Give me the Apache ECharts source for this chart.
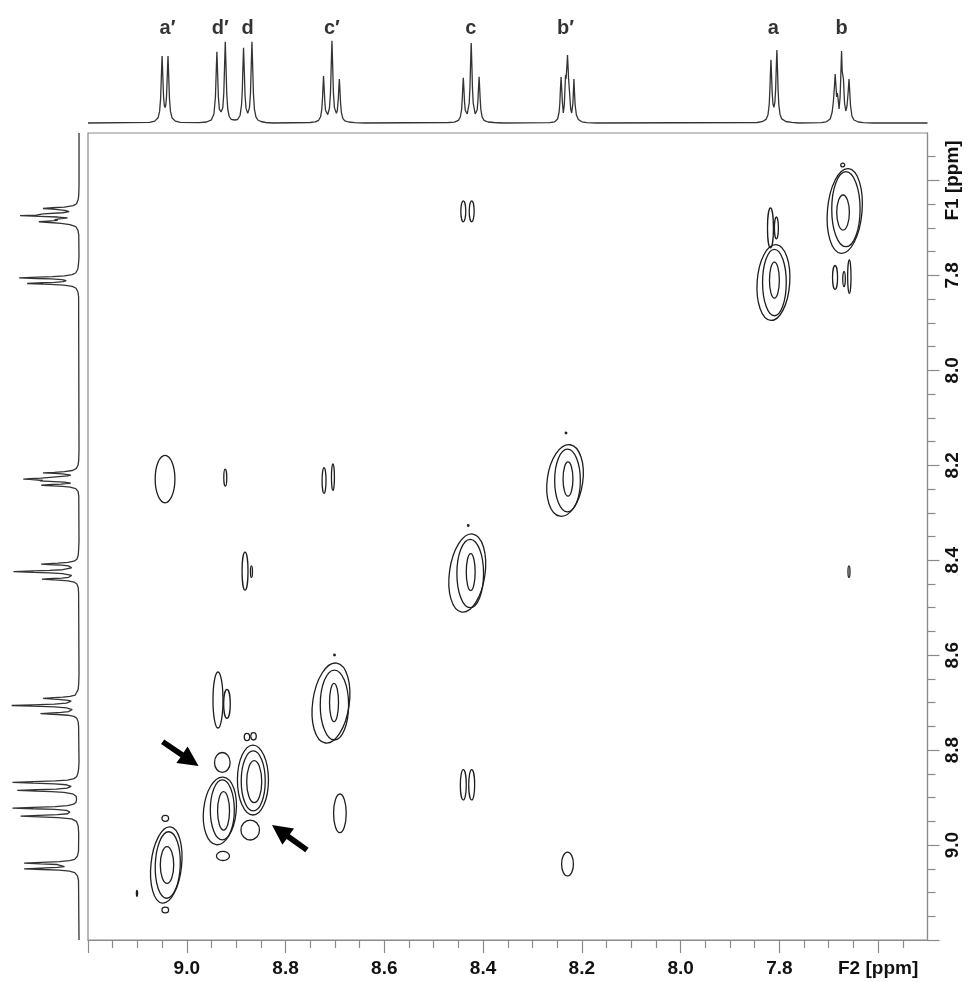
<!DOCTYPE html>
<html><head><meta charset="utf-8">
<script src="https://cdn.jsdelivr.net/npm/echarts@6/dist/echarts.min.js"></script>
<style>html,body{margin:0;padding:0;background:#fff}#c{width:972px;height:982px}</style>
</head><body><div id="c"></div>
<script>
// ---- axis data ----
const axisMin = 7.5, axisMax = 9.2;
const majorTicks = [7.6, 7.8, 8.0, 8.2, 8.4, 8.6, 8.8, 9.0, 9.2];
const minorTicks = [7.55,7.65,7.7,7.75,7.85,7.9,7.95,8.05,8.1,8.15,8.25,8.3,8.35,8.45,8.5,8.55,8.65,8.7,8.75,8.85,8.9,8.95,9.05,9.1,9.15];
const labelValues = [7.6, 7.8, 8.0, 8.2, 8.4, 8.6, 8.8, 9.0];
const xTickLabels = ['F2 [ppm]', '7.8', '8.0', '8.2', '8.4', '8.6', '8.8', '9.0'];
const yTickLabels = ['F1 [ppm]', '7.8', '8.0', '8.2', '8.4', '8.6', '8.8', '9.0'];

// ---- 1D spectrum trace (ppm, intensity) ----
const aPrimeTrace = [[9.075,0.6],[9.065,1.9],[9.058,5.3],[9.055,11.6],[9.053,24.1],[9.0515,46],[9.05,67],[9.0485,47],[9.047,26.4],[9.0455,17.7],[9.044,15.4],[9.0425,17.7],[9.041,26.4],[9.0395,47],[9.038,67],[9.0365,46],[9.035,24.1],[9.033,11.6],[9.03,5.3],[9.023,1.9],[9.013,0.6]];
const dPairTrace = [[8.975,0.4],[8.96,1.0],[8.95,3.2],[8.945,9.0],[8.942,25.5],[8.9405,48.9],[8.939,71.3],[8.9375,49.4],[8.936,26.4],[8.934,13.9],[8.9305,11],[8.927,15.3],[8.925,29.7],[8.9235,56],[8.922,81.2],[8.9205,56],[8.919,29.1],[8.917,14],[8.914,6.5],[8.91,3.7],[8.9035,3.0],[8.897,3.5],[8.892,7.8],[8.889,18.5],[8.8875,33.5],[8.8865,52],[8.885,75.3],[8.8835,52.1],[8.882,27.8],[8.88,14.6],[8.8765,9.6],[8.873,15.4],[8.871,29.8],[8.8695,56.1],[8.868,81.2],[8.8665,55.9],[8.865,29.1],[8.863,13.9],[8.86,6.2],[8.856,3.0],[8.85,1.5],[8.84,0.5],[8.825,0]];
const cPrimeTrace = [[8.75,0.5],[8.74,1.1],[8.733,2.7],[8.729,6.2],[8.7265,13.9],[8.725,26],[8.7245,32],[8.723,47],[8.7215,32],[8.7205,21.8],[8.719,12.8],[8.7145,8.3],[8.711,15],[8.709,29.9],[8.7075,56.6],[8.706,82.2],[8.7045,56.6],[8.703,30.1],[8.701,15.4],[8.697,9.6],[8.695,12.9],[8.693,25.4],[8.6925,31],[8.691,44],[8.6895,30],[8.6885,19.7],[8.687,10.9],[8.684,4.6],[8.68,2.2],[8.672,1.0],[8.66,0.4],[8.64,0]];
const cTrace = [[8.47,0.5],[8.458,0.9],[8.45,2.6],[8.446,6],[8.4435,13.3],[8.442,25],[8.4415,31],[8.44,45.2],[8.4385,31.5],[8.4375,21],[8.436,12.6],[8.432,9.0],[8.428,20.1],[8.4265,35.9],[8.4255,55.2],[8.424,80],[8.4225,55.2],[8.4215,35.9],[8.42,20.1],[8.416,9.0],[8.412,13],[8.4105,21.4],[8.4095,32],[8.408,46.2],[8.4065,31.5],[8.406,25.6],[8.4045,13.6],[8.402,6.1],[8.398,2.6],[8.39,1.0],[8.378,0.5],[8.36,0]];
const bPrimeTrace = [[8.265,0.3],[8.255,1.2],[8.249,4],[8.246,11],[8.2445,20],[8.2435,32],[8.242,46],[8.2405,32],[8.2395,22],[8.2375,10],[8.2355,18],[8.234,36],[8.233,48],[8.232,44],[8.231,46],[8.2298,60],[8.229,68],[8.2282,60],[8.227,46],[8.226,44],[8.2245,28],[8.2225,14],[8.2205,10],[8.218,20],[8.2172,30],[8.216,44],[8.2148,30],[8.2135,18],[8.211,8],[8.207,3.5],[8.2,1.2],[8.19,0.4],[8.17,0]];
const aTrace = [[7.845,0.5],[7.835,1.3],[7.827,3.6],[7.823,8.2],[7.8205,18.7],[7.819,35.1],[7.8185,44],[7.817,63.3],[7.8155,44],[7.8145,30.2],[7.813,19.2],[7.811,15.6],[7.809,20.8],[7.8075,34.1],[7.8065,51],[7.805,73],[7.8035,50],[7.8025,32.4],[7.801,17.7],[7.7985,8.3],[7.795,4.1],[7.787,1.5],[7.775,0.6],[7.76,0]];
const bTrace = [[7.715,0.3],[7.705,1.2],[7.697,4],[7.693,11],[7.6905,22],[7.6885,36],[7.687,49],[7.6855,38],[7.684,26],[7.6825,30],[7.681,24],[7.679,14],[7.677,26],[7.6755,48],[7.674,72],[7.6728,52],[7.6715,54],[7.6702,44],[7.668,20],[7.6655,12],[7.663,17],[7.6605,32],[7.659,44],[7.6575,32],[7.656,18],[7.653,7],[7.649,3],[7.64,1],[7.63,0.3],[7.61,0]];
const baselineEnds = [[9.2,0],[7.5,0]];

// ---- peak labels over the projection ----
const peakLabelNames = ['a\u2032','d\u2032','d','c\u2032','c','b\u2032','a','b'];
const peakLabelPpm   = [9.039, 8.932, 8.877, 8.706, 8.425, 8.233, 7.812, 7.674];

// ---- 2D contours: [F2 ppm, F1 ppm, half-width F2, half-width F1, tilt deg] ----
const diagonalContours = [
  [9.0415, 9.042, 0.0310, 0.0807, 6], [9.0385, 9.042, 0.0253, 0.0701, 2], [9.040, 9.042, 0.0136, 0.0386, 0],
  [8.933, 8.928, 0.0330, 0.0716, 6], [8.928, 8.926, 0.0243, 0.0632, 0], [8.9255, 8.928, 0.0121, 0.0404, 0],
  [8.866, 8.863, 0.0314, 0.0737, 0], [8.8654, 8.865, 0.0243, 0.0632, 0], [8.8634, 8.8665, 0.0152, 0.0442, 0],
  [8.708, 8.7008, 0.0370, 0.0850, 8], [8.701, 8.705, 0.0287, 0.0737, 0], [8.7018, 8.6997, 0.0091, 0.0404, 0],
  [8.432, 8.427, 0.0360, 0.0830, 8], [8.426, 8.428, 0.027, 0.072, 0], [8.425, 8.425, 0.009, 0.039, 0],
  [8.234, 8.232, 0.0360, 0.0760, 8], [8.229, 8.232, 0.026, 0.066, 0], [8.228, 8.229, 0.010, 0.036, 0],
  [7.812, 7.815, 0.033, 0.080, 4], [7.810, 7.815, 0.024, 0.070, 0], [7.810, 7.810, 0.010, 0.038, 0],
  [7.6676, 7.6643, 0.0350, 0.0895, 5], [7.6652, 7.6605, 0.0287, 0.079, 0], [7.671, 7.6675, 0.0128, 0.0369, 0]
];
const crossContours = [
  [9.0435, 8.9437, 0.0067, 0.0063, 0], [9.0435, 9.1368, 0.0067, 0.006, 0], [9.1008, 9.1016, 0.0012, 0.0063, 0],
  [8.928, 8.826, 0.0158, 0.021, 0], [8.9267, 9.023, 0.0132, 0.0095, 0],
  [8.8781, 8.7724, 0.0055, 0.0078, 0], [8.8648, 8.7709, 0.0055, 0.0078, 0], [8.8715, 8.9683, 0.0188, 0.021, 0],
  [8.7008, 8.5997, 0.0016, 0.0017, 0], [8.430, 8.327, 0.0016, 0.0017, 0], [8.232, 8.132, 0.0016, 0.0017, 0], [7.6717, 7.5674, 0.004, 0.004, 0],
  [8.9368, 8.6944, 0.0101, 0.059, 0], [8.9186, 8.7024, 0.0067, 0.0305, 0],
  [8.6899, 8.9331, 0.0128, 0.0407, 0],
  [9.044, 8.229, 0.020, 0.05, 0], [8.922, 8.226, 0.003, 0.018, 0], [8.722, 8.232, 0.004, 0.027, 0], [8.704, 8.225, 0.003, 0.028, 0],
  [8.229, 9.040, 0.012, 0.025, 0],
  [8.882, 8.423, 0.006, 0.040, 0], [8.869, 8.424, 0.002, 0.012, 0], [7.659, 8.424, 0.002, 0.012, 0],
  [8.440, 8.873, 0.006, 0.032, 0], [8.423, 8.873, 0.006, 0.032, 0],
  [8.440, 7.665, 0.005, 0.022, 0], [8.423, 7.665, 0.005, 0.022, 0],
  [7.818, 7.700, 0.006, 0.042, 0], [7.806, 7.700, 0.004, 0.023, 0],
  [7.6872, 7.8044, 0.0051, 0.0253, 0], [7.669, 7.8076, 0.0026, 0.0158, 0], [7.6583, 7.8027, 0.0034, 0.0352, 0]
];

// ---- annotation arrows: [from F2, from F1, to F2, to F1] ----
const arrowData = [[9.0488, 8.7823, 8.9761, 8.8335], [8.7567, 9.0104, 8.8275, 8.9578]];

// ---- build ----
const spectrum = [baselineEnds[0]].concat(aPrimeTrace, dPairTrace, cPrimeTrace, cTrace, bPrimeTrace, aTrace, bTrace, [baselineEnds[1]]);
const labelData = peakLabelNames.map((n, i) => ({ name: n, value: [peakLabelPpm[i], 95] }));

const FONT = 'Liberation Sans, Arial, Helvetica, sans-serif';
const AXIS_COLOR = '#8a8a8a';
function labelFor(v, arr) {
  for (let i = 0; i < labelValues.length; i++) if (Math.abs(v - labelValues[i]) < 1e-6) return arr[i];
  return '';
}
function ellipseItem(params, api) {
  const c = api.coord([api.value(0), api.value(1)]);
  const s = api.size([api.value(2), api.value(3)]);
  const tilt = api.value(4) || 0;
  return {
    type: 'ellipse', x: c[0], y: c[1], rotation: -tilt * Math.PI / 180,
    shape: { cx: 0, cy: 0, rx: s[0], ry: s[1] },
    style: { fill: null, stroke: '#1e1e1e', lineWidth: 1.3 }
  };
}
function arrowItem(params, api) {
  const p1 = api.coord([api.value(0), api.value(1)]);
  const p2 = api.coord([api.value(2), api.value(3)]);
  const dx = p2[0] - p1[0], dy = p2[1] - p1[1], L = Math.hypot(dx, dy);
  const ux = dx / L, uy = dy / L, nx = -uy, ny = ux;
  const head = 20, hw = 10, sw = 2.8;
  const bx = p2[0] - ux * head, by = p2[1] - uy * head;
  const pts = [[p1[0] + nx * sw, p1[1] + ny * sw], [bx + nx * sw, by + ny * sw], [bx + nx * hw, by + ny * hw], p2,
               [bx - nx * hw, by - ny * hw], [bx - nx * sw, by - ny * sw], [p1[0] - nx * sw, p1[1] - ny * sw]];
  return { type: 'polygon', shape: { points: pts }, style: { fill: '#000' } };
}
const tickLabelStyle = { color: '#111', fontSize: 19, fontWeight: 'bold', fontFamily: FONT };

const chart = echarts.init(document.getElementById('c'), null, { renderer: 'canvas' });
chart.setOption({
  animation: false,
  backgroundColor: '#fff',
  grid: [
    { left: 88, top: 133, width: 839.5, height: 807, show: true, borderColor: AXIS_COLOR, borderWidth: 1.2, backgroundColor: 'transparent' },
    { left: 88, top: 23, width: 839.5, height: 102, show: false },
    { left: 0, top: 133, width: 80, height: 807, show: false }
  ],
  xAxis: [
    { gridIndex: 0, type: 'value', min: axisMin, max: axisMax, inverse: true, position: 'bottom',
      axisLine: { show: true, onZero: false, lineStyle: { color: AXIS_COLOR, width: 1.2 } },
      axisTick: { show: true, customValues: majorTicks, length: 13, lineStyle: { color: AXIS_COLOR, width: 1.2 } },
      axisLabel: Object.assign({ show: true, customValues: labelValues, margin: 19, formatter: v => labelFor(v, xTickLabels) }, tickLabelStyle),
      splitLine: { show: false } },
    { gridIndex: 0, type: 'value', min: axisMin, max: axisMax, inverse: true, position: 'bottom',
      axisLine: { show: false },
      axisTick: { show: true, customValues: minorTicks, length: 8, lineStyle: { color: AXIS_COLOR, width: 1.2 } },
      axisLabel: { show: false }, splitLine: { show: false } },
    { gridIndex: 1, type: 'value', min: axisMin, max: axisMax, inverse: true, show: false },
    { gridIndex: 2, type: 'value', min: -1.2, max: 96.4, inverse: true, show: false }
  ],
  yAxis: [
    { gridIndex: 0, type: 'value', min: axisMin, max: axisMax, inverse: true, position: 'right',
      axisLine: { show: true, onZero: false, lineStyle: { color: AXIS_COLOR, width: 1.2 } },
      axisTick: { show: true, customValues: majorTicks, length: 12, lineStyle: { color: AXIS_COLOR, width: 1.2 } },
      axisLabel: Object.assign({ show: true, customValues: labelValues, rotate: 90, margin: 16, formatter: v => labelFor(v, yTickLabels) }, tickLabelStyle),
      splitLine: { show: false } },
    { gridIndex: 0, type: 'value', min: axisMin, max: axisMax, inverse: true, position: 'right',
      axisLine: { show: false },
      axisTick: { show: true, customValues: minorTicks, length: 8, lineStyle: { color: AXIS_COLOR, width: 1.2 } },
      axisLabel: { show: false }, splitLine: { show: false } },
    { gridIndex: 1, type: 'value', min: -2, max: 100, show: false },
    { gridIndex: 2, type: 'value', min: axisMin, max: axisMax, inverse: true, show: false }
  ],
  series: [
    { type: 'line', name: 'F2 projection', xAxisIndex: 2, yAxisIndex: 2, data: spectrum, showSymbol: false, silent: true,
      lineStyle: { color: '#333', width: 1.3 } },
    { type: 'line', name: 'F1 projection', xAxisIndex: 3, yAxisIndex: 3, data: spectrum, encode: { x: 1, y: 0 }, showSymbol: false, silent: true,
      lineStyle: { color: '#333', width: 1.3 } },
    { type: 'scatter', name: 'labels', xAxisIndex: 2, yAxisIndex: 2, data: labelData, symbolSize: 2, silent: true,
      itemStyle: { color: 'rgba(0,0,0,0)' },
      label: { show: true, position: 'inside', formatter: p => p.name, color: '#000', fontSize: 20, fontWeight: 'bold', fontFamily: FONT } },
    { type: 'custom', name: 'diagonal', xAxisIndex: 0, yAxisIndex: 0, data: diagonalContours, encode: { x: 0, y: 1 }, renderItem: ellipseItem, silent: true },
    { type: 'custom', name: 'cross', xAxisIndex: 0, yAxisIndex: 0, data: crossContours, encode: { x: 0, y: 1 }, renderItem: ellipseItem, silent: true },
    { type: 'custom', name: 'arrows', xAxisIndex: 0, yAxisIndex: 0, data: arrowData, encode: { x: [0, 2], y: [1, 3] }, renderItem: arrowItem, silent: true }
  ]
});
</script></body></html>
